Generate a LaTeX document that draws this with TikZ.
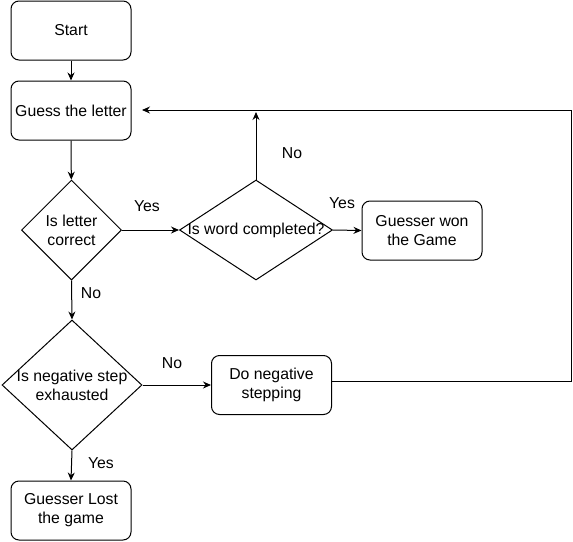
\documentclass[tikz,border=0pt]{standalone}
\usepackage{fontspec}
\setmainfont{Liberation Sans}
\usetikzlibrary{shapes.geometric,arrows.meta}
\begin{document}
\begin{tikzpicture}[x=1pt,y=-1pt,
  every node/.style={font=\fontsize{15.8}{19}\selectfont},
  stepbox/.style={draw, line width=1pt, rounded corners=8pt, minimum width=120pt, minimum height=59pt, inner sep=0pt, align=center},
  decision/.style={draw, diamond, line width=1pt, inner sep=0pt},
  conn/.style={line width=1pt, -{Stealth[length=8pt,width=7pt]}},
  plain/.style={line width=1pt},
  lbl/.style={inner sep=0pt}]
\useasboundingbox (0,0) rectangle (573,541);
\node[stepbox] (start) at (71,30.5) {Start};
\node[stepbox] (guess) at (71,110.5) {Guess the letter};
\node[decision, minimum width=100pt, minimum height=100pt,
  label={[align=center]center:Is letter\\correct}] (d1) at (71.5,230) {};
\node[decision, minimum width=153pt, minimum height=100pt,
  label={[align=center,inner sep=0pt]center:Is word completed?}] (d2) at (256,230) {};
\node[stepbox] (won) at (422,230.5) {Guesser won\\the Game};
\node[decision, minimum width=140pt, minimum height=130pt,
  label={[align=center,inner sep=0pt]center:Is negative step\\exhausted}] (d3) at (72,385) {};
\node[stepbox] (neg) at (271.5,385) {Do negative\\stepping};
\node[stepbox] (lost) at (71,510.5) {Guesser Lost\\the game};
\coordinate (upend) at (256,112);
\coordinate (loopa) at (571,381);
\coordinate (loopb) at (571,110);
\coordinate (loopend) at (142,110);
\draw[conn] (start) -- (guess);
\draw[conn] (guess) -- (d1);
\draw[conn] (d1.east) -- (d2.west);
\draw[conn] (d2.east) -- (won.west);
\draw[conn] (d2.north) -- (upend);
\draw[conn] (d1.south) -- (d3.north);
\draw[conn] (d3.east) -- (neg.west);
\draw[conn] (d3.south) -- (lost.north);
\draw[conn] (neg.east |- loopa) -- (loopa) -- (loopb) -- (loopend);
\node[lbl] (y1) at (147,206) {Yes};
\node[lbl] (y2) at (342,203) {Yes};
\node[lbl] (n1) at (292,153) {No};
\node[lbl] (n2) at (91,293) {No};
\node[lbl] (n3) at (172,363) {No};
\node[lbl] (y3) at (101,463) {Yes};
\end{tikzpicture}
\end{document}
